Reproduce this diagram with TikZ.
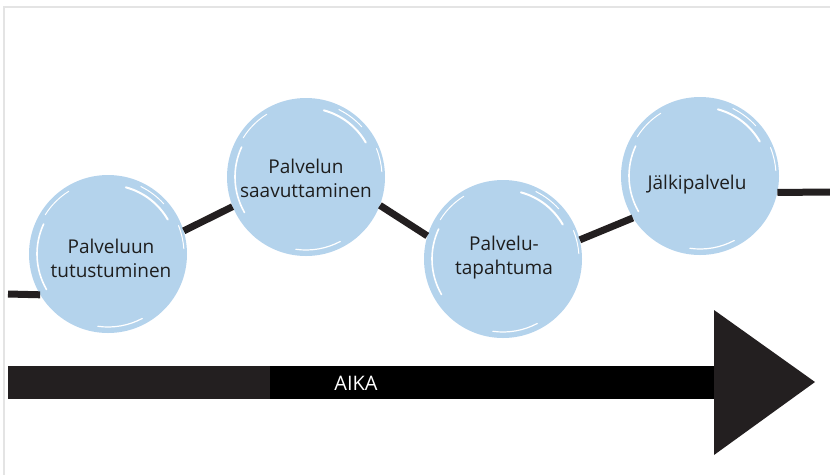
\documentclass[tikz,border=0pt]{standalone}
\usepackage{fontspec}
\setmainfont{Open Sans}
\usetikzlibrary{calc}
\definecolor{bub}{HTML}{B4D3EC}
\definecolor{ink}{HTML}{231F20}
\definecolor{txt}{HTML}{1E1E1E}
\definecolor{frame}{HTML}{E4E4E4}
\newcommand\brushmarks[1]{%
  \begin{scope}[shift={(#1)}]
    \draw[white, line width=1.6pt, line cap=round] (150:71) arc (150:205:71);
    \draw[white, line width=1pt, line cap=round] (212:74) arc (212:238:74);
    \draw[white, line width=2pt, line cap=round] (285:69) arc (285:330:69);
    \draw[white, line width=1pt, line cap=round] (296:75) arc (296:318:75);
    \draw[white, line width=1.2pt, line cap=round] (62:73) arc (62:98:73);
    \draw[white, line width=1pt, line cap=round] (338:76) arc (338:356:76);
  \end{scope}}
\begin{document}
\begin{tikzpicture}[x=1pt, y=-1pt,
  bubble/.style={circle, fill=bub, minimum size=158pt, inner sep=0pt},
  conn/.style={line width=7pt, draw=ink},
  lbl/.style={font=\fontsize{19}{24}\selectfont, text=txt, align=center, inner sep=0pt}]
  \useasboundingbox (0,0) rectangle (830,475);
  % frame
  \draw[frame, line width=2pt] (4,475) -- (4,7) -- (830,7);
  % bubbles
  \node[bubble] (c1) at (108,254) {};
  \node[bubble] (c2) at (306,177) {};
  \node[bubble] (c3) at (503,259) {};
  \node[bubble] (c4) at (700,176) {};
  \brushmarks{c1}
  \brushmarks{c2}
  \brushmarks{c3}
  \brushmarks{c4}
  % labels
  \node[lbl] (t1) at (111,258) {Palveluun\\tutustuminen};
  \node[lbl] (t2) at (306,178) {Palvelun\\saavuttaminen};
  \node[lbl] (t3) at (504,258) {Palvelu-\\tapahtuma};
  \node[lbl] (t4) at (697,185) {Jälkipalvelu};
  % connectors
  \coordinate (s) at (8,294);
  \coordinate (e) at (830,192);
  \draw[conn] (s) -- (c1.211);
  \draw[conn] (c1.17) -- (c2.202);
  \draw[conn] (c2.339) -- (c3.163);
  \draw[conn] (c3.14) -- (c4.212);
  \draw[conn] (c4.348) -- (e);
  % time arrow
  \fill[ink] (8,366) rectangle (270,399);
  \fill[black] (270,366) rectangle (716,399);
  \fill[ink] (714,310) -- (815,382) -- (714,455) -- cycle;
  \node[font=\fontsize{20}{24}\selectfont, text=white, inner sep=0pt] (aika) at (356,383) {AIKA};
\end{tikzpicture}
\end{document}
